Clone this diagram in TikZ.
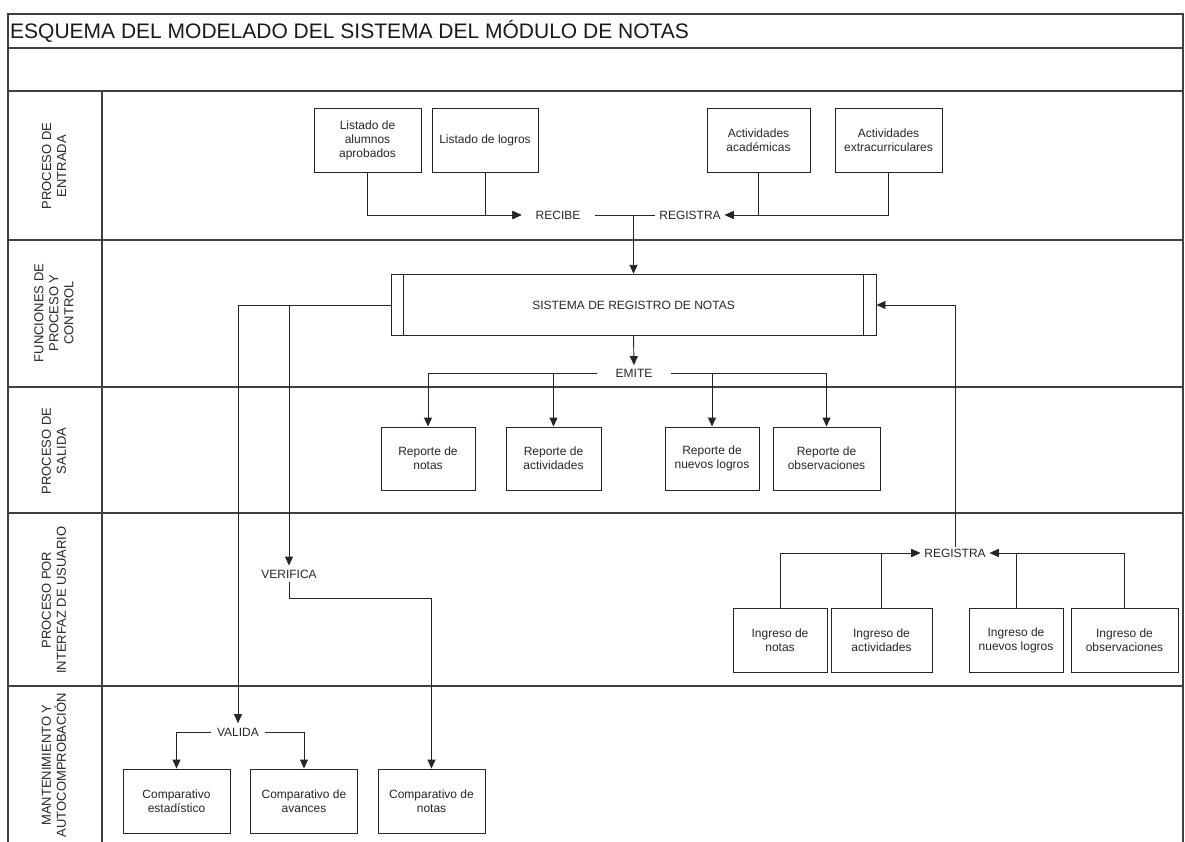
\documentclass[tikz,border=0pt]{standalone}
\usepackage{fontspec}
\setmainfont{Liberation Sans}
\usetikzlibrary{arrows.meta}
\begin{document}
\begin{tikzpicture}[x=1pt,y=-1pt,
  frame/.style={line width=1.2pt, draw=black!75},
  box/.style={draw=black!85, line width=0.9pt, align=center,
    font=\fontsize{12}{14}\selectfont, inner sep=2pt, text=black!85},
  tag/.style={font=\fontsize{12}{14}\selectfont, inner ysep=3pt, text=black!85},
  conn/.style={draw=black!85, line width=0.9pt},
  arr/.style={conn, -{Triangle[length=9pt,width=8pt]}},
  lanetitle/.style={rotate=90, align=center,
    font=\fontsize{13}{15}\selectfont, text=black!85}
]
\useasboundingbox (0,0) rectangle (1185,842);

% outer frame, header rows and swimlanes
\draw[frame] (8,842) -- (8,14) -- (1183,14) -- (1183,842);
\foreach \yy in {48,91,240,387,513,686} \draw[frame] (8,\yy) -- (1183,\yy);
\draw[frame] (102,91) -- (102,842);

\node[anchor=west, inner sep=0, font=\fontsize{21}{24}\selectfont, text=black!90]
  (title) at (10,31) {ESQUEMA DEL MODELADO DEL SISTEMA DEL MÓDULO DE NOTAS};

% lane titles
\node[lanetitle] (lane1) at (54,166) {PROCESO DE\\ENTRADA};
\node[lanetitle] (lane2) at (54,313) {FUNCIONES DE\\PROCESO Y\\CONTROL};
\node[lanetitle] (lane3) at (54,451) {PROCESO DE\\SALIDA};
\node[lanetitle] (lane4) at (54,600) {PROCESO POR\\INTERFAZ DE USUARIO};
\node[lanetitle] (lane5) at (54,765) {MANTENIMIENTO Y\\AUTOCOMPROBACIÓN};

% input lane
\node[box, minimum width=107pt, minimum height=64pt] (alum)   at (367.5,140) {Listado de\\alumnos\\aprobados};
\node[box, minimum width=106pt, minimum height=64pt] (logros) at (485,140)   {Listado de logros};
\node[box, minimum width=103pt, minimum height=64pt] (acad)   at (758.5,140) {Actividades\\académicas};
\node[box, minimum width=107pt, minimum height=64pt] (extra)  at (888.5,140) {Actividades\\extracurriculares};
\node[tag, inner xsep=14pt] (recibe) at (558,215) {RECIBE};
\node[tag, inner xsep=4pt]  (regA)   at (690,215) {REGISTRA};

% process and control lane
\node[box, minimum width=485pt, minimum height=61.5pt] (sis) at (633.5,305) {SISTEMA DE REGISTRO DE NOTAS};
\node[tag, inner xsep=18.5pt, inner ysep=3.5pt] (emite) at (634,373) {EMITE};

% output lane
\node[box, minimum width=94pt,  minimum height=63pt] (rnotas) at (428,458.5)   {Reporte de\\notas};
\node[box, minimum width=95pt,  minimum height=63pt] (ract)   at (553.5,458.5) {Reporte de\\actividades};
\node[box, minimum width=94pt,  minimum height=63pt] (rlog)   at (712,458.5)   {Reporte de\\nuevos logros};
\node[box, minimum width=107pt, minimum height=63pt] (robs)   at (826.5,458.5) {Reporte de\\observaciones};

% user interface lane
\node[tag, inner xsep=2pt, inner ysep=4pt] (verifica) at (289,574) {VERIFICA};
\node[tag, inner xsep=4pt, inner ysep=2pt] (regB) at (955,553) {REGISTRA};
\node[box, minimum width=94pt,  minimum height=64pt] (inotas) at (780,640)    {Ingreso de\\notas};
\node[box, minimum width=101pt, minimum height=64pt] (iact)   at (881.5,640)  {Ingreso de\\actividades};
\node[box, minimum width=94pt,  minimum height=64pt] (ilog)   at (1016,640)   {Ingreso de\\nuevos logros};
\node[box, minimum width=107pt, minimum height=64pt] (iobs)   at (1124.5,640) {Ingreso de\\observaciones};

% maintenance lane
\node[tag, inner xsep=6pt, inner ysep=4.5pt] (valida) at (238,732) {VALIDA};
\node[box, minimum width=107pt, minimum height=64pt] (cest) at (176.5,801) {Comparativo\\estadístico};
\node[box, minimum width=107pt, minimum height=64pt] (cav)  at (304,801)   {Comparativo de\\avances};
\node[box, minimum width=107pt, minimum height=64pt] (cnot) at (431.5,801) {Comparativo de\\notas};

% predefined-process side bars
\draw[conn] ([xshift=13pt]sis.north west) -- ([xshift=13pt]sis.south west);
\draw[conn] ([xshift=-13pt]sis.north east) -- ([xshift=-13pt]sis.south east);

% input connectors
\draw[arr] (alum.south) |- (recibe.west);
\draw[arr] (logros.south) |- (recibe.west);
\draw[arr] (extra.south) |- (regA.east);
\draw[arr] (acad.south) |- (regA.east);
\draw[conn] (recibe.east) -- (regA.west);
\draw[arr] (recibe.east -| sis.north) -- (sis.north);

% outputs
\draw[arr] (sis.south) -- (emite.north);
\draw[arr] (emite.west) -| (rnotas.north);
\draw[arr] (emite.west) -| (ract.north);
\draw[arr] (emite.east) -| (rlog.north);
\draw[arr] (emite.east) -| (robs.north);

% checks and validation
\draw[arr] (sis.west) -| (valida.north);
\draw[arr] (sis.west -| verifica.north) -- (verifica.north);
\draw[arr] (verifica.south) -- ++(0,16) -| (cnot.north);
\draw[arr] (valida.west) -| (cest.north);
\draw[arr] (valida.east) -| (cav.north);

% user entries
\draw[arr] (inotas.north) |- (regB.west);
\draw[arr] (iact.north) |- (regB.west);
\draw[arr] (ilog.north) |- (regB.east);
\draw[arr] (iobs.north) |- (regB.east);
\draw[arr] (regB.north) |- (sis.east);
\end{tikzpicture}
\end{document}
